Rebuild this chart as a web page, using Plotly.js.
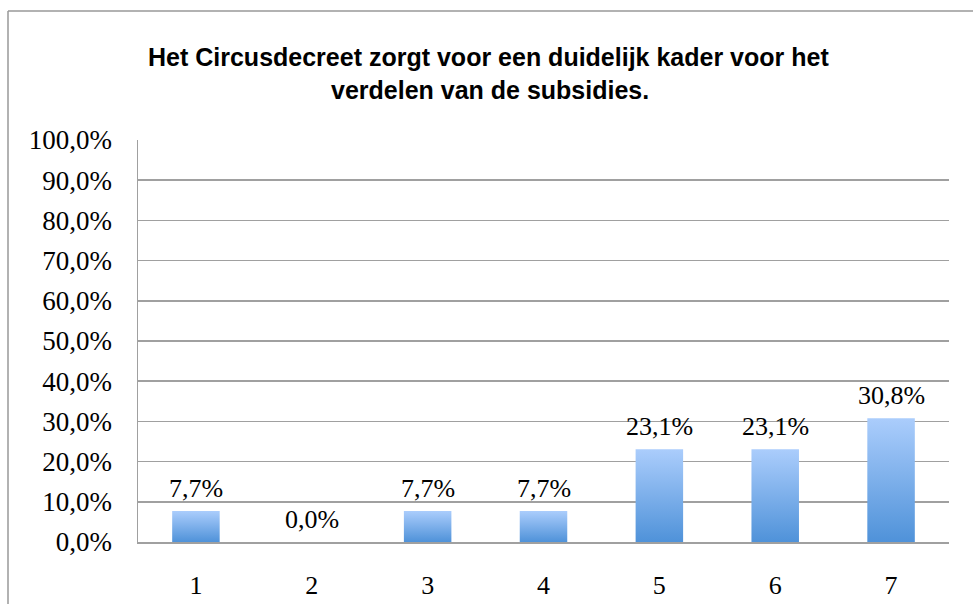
<!DOCTYPE html>
<html>
<head>
<meta charset="utf-8">
<script src="https://cdn.plot.ly/plotly-3.0.1.min.js"></script>
<style>
html,body{margin:0;padding:0;background:#fff;}
#chart{width:973px;height:604px;}
</style>
</head>
<body>
<div id="chart"></div>
<script>
const categories = ['1', '2', '3', '4', '5', '6', '7'];
const values = [7.7, 0.0, 7.7, 7.7, 23.1, 23.1, 30.8];
const valueLabels = ['7,7%', '0,0%', '7,7%', '7,7%', '23,1%', '23,1%', '30,8%'];
const yTickValues = [0, 10, 20, 30, 40, 50, 60, 70, 80, 90, 100];
const yTickLabels = ['0,0%', '10,0%', '20,0%', '30,0%', '40,0%', '50,0%', '60,0%', '70,0%', '80,0%', '90,0%', '100,0%'];
const titleLine1 = 'Het Circusdecreet zorgt voor een duidelijk kader voor het';
const titleLine2 = 'verdelen van de subsidies.';

const serif = 'Liberation Serif, Times New Roman, serif';
const sans = 'Liberation Sans, Arial, sans-serif';
const grey = '#a0a0a0';

const trace = {
  type: 'bar',
  x: categories,
  y: values,
  width: 0.41,
  marker: {color: '#7fb1ec', line: {width: 0}},
  hoverinfo: 'skip'
};

// category axis: annotation x given as the category index
const annotations = categories.map((c, i) => ({
  x: i, y: values[i], xref: 'x', yref: 'y',
  text: valueLabels[i], showarrow: false,
  yanchor: 'bottom', yshift: 6,
  font: {family: serif, size: 26, color: '#000'}
}));
annotations.push({
  xref: 'paper', yref: 'paper', x: (488 - 138) / 811, y: 1 + (140 - 57) / 402,
  text: '<b>' + titleLine1 + '</b>', showarrow: false, xanchor: 'center', yanchor: 'middle',
  font: {family: sans, size: 25, color: '#000'}
});
annotations.push({
  xref: 'paper', yref: 'paper', x: (490 - 138) / 811, y: 1 + (140 - 90) / 402,
  text: '<b>' + titleLine2 + '</b>', showarrow: false, xanchor: 'center', yanchor: 'middle',
  font: {family: sans, size: 25, color: '#000'}
});

const layout = {
  width: 973, height: 604,
  margin: {l: 138, r: 24, t: 140, b: 62},
  paper_bgcolor: '#fff', plot_bgcolor: '#fff',
  showlegend: false,
  xaxis: {
    type: 'category',
    range: [-0.5, categories.length - 0.5],
    tickfont: {family: serif, size: 26, color: '#000'},
    showgrid: false, zeroline: false,
    showline: true, linecolor: grey, linewidth: 1.5,
    ticks: '', ticklabelstandoff: 19
  },
  yaxis: {
    range: [0, 100],
    tickvals: yTickValues, ticktext: yTickLabels,
    tickfont: {family: serif, size: 27, color: '#000'},
    showgrid: true, gridcolor: grey, gridwidth: 1.5,
    zeroline: false,
    showline: true, linecolor: grey, linewidth: 1.5,
    ticks: '', ticklabelstandoff: 19
  },
  annotations: annotations,
  shapes: [
    {type: 'line', xref: 'paper', yref: 'paper',
     x0: (8 - 138) / 811, x1: (8 - 138) / 811, y0: 1 + (140 - 11) / 402, y1: -(604 - 542 + 5) / 402,
     line: {color: '#999', width: 1.5}},
    {type: 'line', xref: 'paper', yref: 'paper',
     x0: (8 - 138) / 811, x1: (980 - 138) / 811, y0: 1 + (140 - 11) / 402, y1: 1 + (140 - 11) / 402,
     line: {color: '#999', width: 1.5}}
  ]
};

Plotly.newPlot('chart', [trace], layout, {staticPlot: true, displayModeBar: false}).then(function (gd) {
  const svg = gd.querySelector('svg.main-svg');
  const ns = 'http://www.w3.org/2000/svg';
  let defs = svg.querySelector('defs');
  if (!defs) { defs = document.createElementNS(ns, 'defs'); svg.insertBefore(defs, svg.firstChild); }
  const grad = document.createElementNS(ns, 'linearGradient');
  grad.setAttribute('id', 'barGrad');
  grad.setAttribute('x1', '0'); grad.setAttribute('y1', '0');
  grad.setAttribute('x2', '0'); grad.setAttribute('y2', '1');
  [['0%', '#abcdfc'], ['100%', '#4f92d9']].forEach(function (s) {
    const st = document.createElementNS(ns, 'stop');
    st.setAttribute('offset', s[0]); st.setAttribute('stop-color', s[1]);
    grad.appendChild(st);
  });
  defs.appendChild(grad);
  gd.querySelectorAll('.barlayer .point path').forEach(function (p) {
    p.style.fill = 'url(#barGrad)';
  });
});
</script>
</body>
</html>
